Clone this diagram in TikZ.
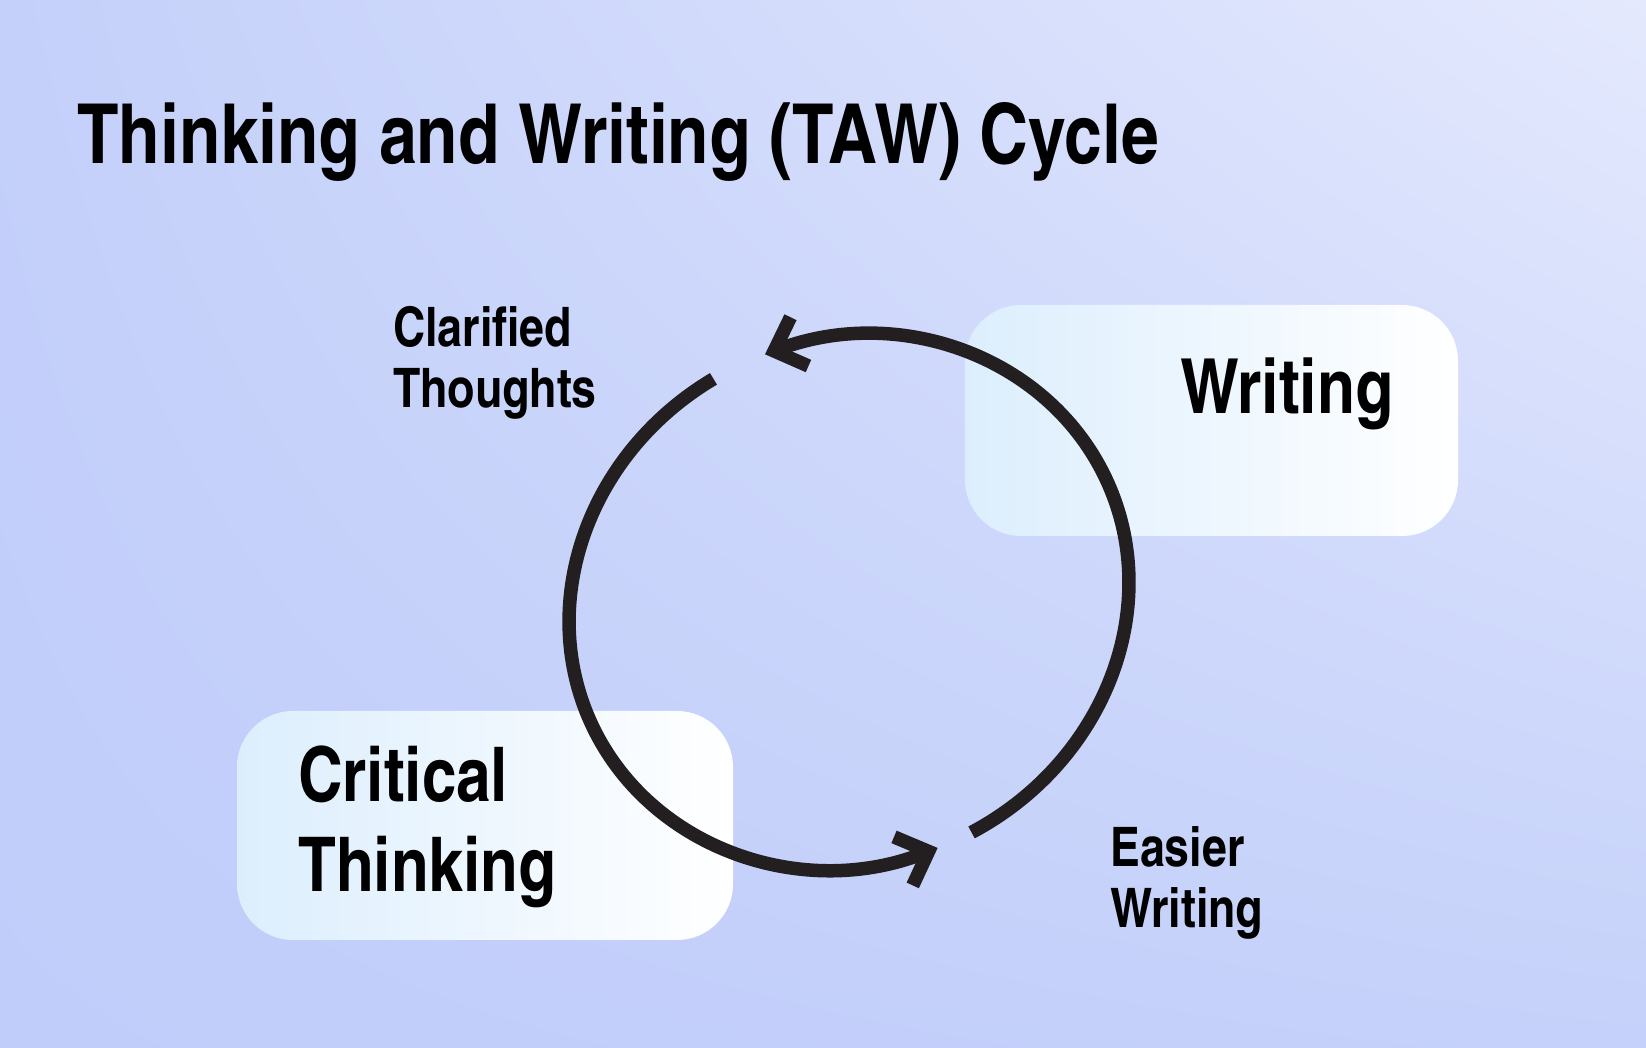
\documentclass[tikz,border=0pt]{standalone}
\usepackage{fontspec}
\newfontfamily\cnb{texgyreheroscn-bold.otf}
\usetikzlibrary{arrows.meta,calc,shadings}
\definecolor{bgLL}{RGB}{192,205,250}
\definecolor{bgUL}{RGB}{196,208,250}
\definecolor{bgLR}{RGB}{197,209,250}
\definecolor{bgUR}{RGB}{228,233,253}
\definecolor{boxL}{RGB}{220,238,253}
\definecolor{ink}{RGB}{35,31,32}
\begin{document}
\begin{tikzpicture}[x=1pt,y=1pt,
  tbox/.style={shade, left color=boxL, right color=white, rounded corners=56pt, inner sep=0pt, draw=none},
  lbl/.style={anchor=base west, inner sep=0pt, text=black},
  cyc/.style={draw=ink, line width=13.5pt, -{Straight Barb[length=27pt,width=52pt]}}]
\useasboundingbox (0,0) rectangle (1646,1048);
\shade[lower left=bgLL, upper left=bgUL, lower right=bgLR, upper right=bgUR] (0,0) rectangle (1646,1048);
% boxes
\node[tbox, minimum width=493pt, minimum height=231pt] (wbox) at (1211.5,627.5) {};
\node[tbox, minimum width=496pt, minimum height=229pt] (cbox) at (485,222.5) {};
% title
\node[lbl, font=\cnb\fontsize{82.8}{90}\selectfont] (title) at (77,884) {Thinking and Writing (TAW) Cycle};
% labels
\node[lbl, font=\cnb\fontsize{76}{84}\selectfont] (writing) at (1180,634) {Writing};
\node[lbl, font=\cnb\fontsize{75.5}{90}\selectfont] (crit) at (298,246) {\begin{tabular}[t]{@{}l@{}}Critical\\Thinking\end{tabular}};
\node[lbl, font=\cnb\fontsize{54.5}{61}\selectfont] (clar) at (393,701) {\begin{tabular}[t]{@{}l@{}}Clarified\\Thoughts\end{tabular}};
\node[lbl, font=\cnb\fontsize{54.5}{61}\selectfont] (easier) at (1110,181) {\begin{tabular}[t]{@{}l@{}}Easier\\Writing\end{tabular}};
% cycle
\coordinate (c) at (849,446);
\begin{scope}[shift={(c)}, rotate=28]
  \coordinate (a1) at (93:285 and 261);
  \coordinate (b1) at (270:285 and 261);
  \draw[cyc] (a1) arc[start angle=93, end angle=262.5, x radius=285, y radius=261];
  \draw[cyc] (b1) arc[start angle=270, end angle=441.5, x radius=285, y radius=261];
\end{scope}
\end{tikzpicture}
\end{document}
